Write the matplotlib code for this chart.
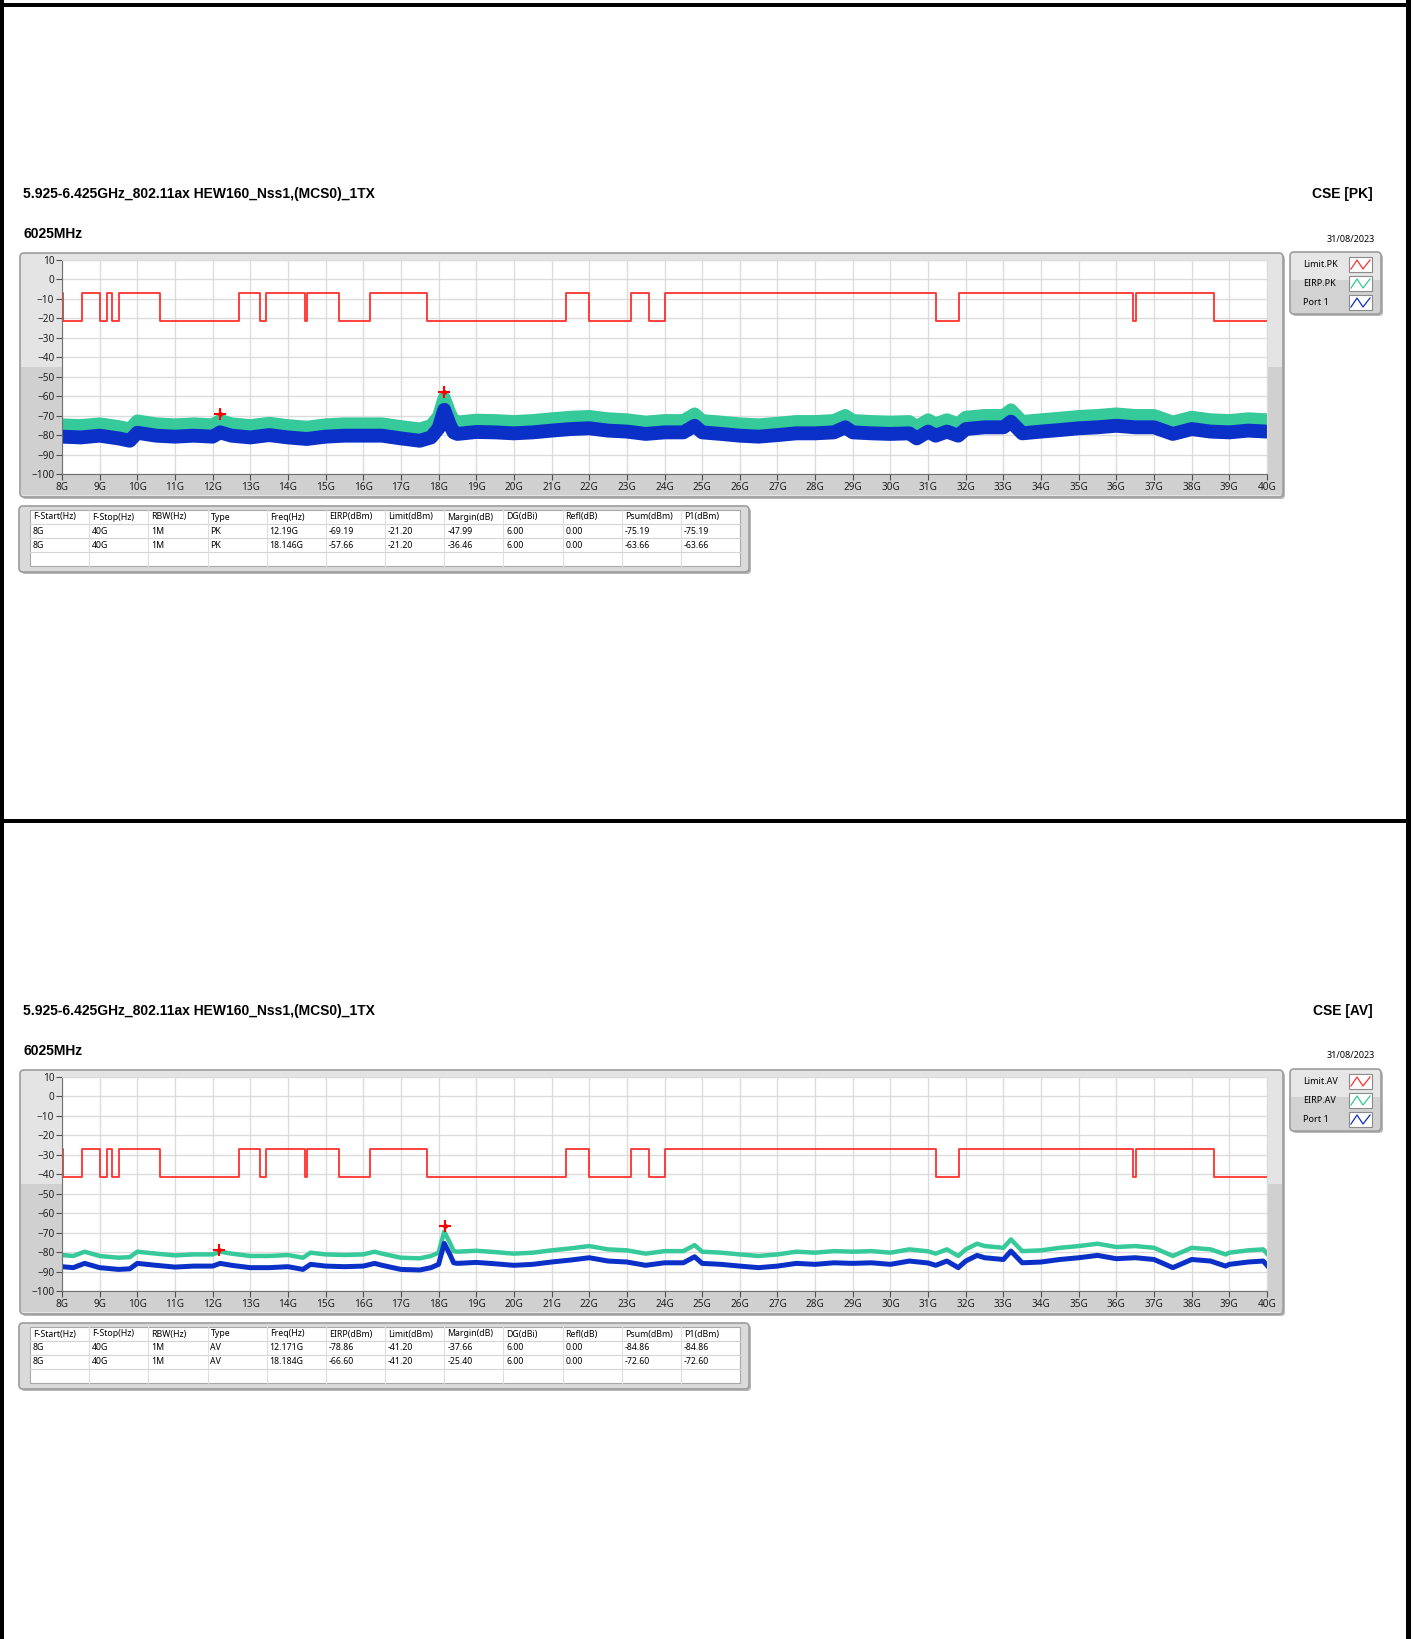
import matplotlib
matplotlib.use('Agg')
import matplotlib.pyplot as plt
from matplotlib.patches import Rectangle, FancyBboxPatch
import numpy as np

plt.rcParams['font.family'] = ['Noto Sans', 'DejaVu Sans']

W, H = 1413, 1639
PAGE = 817   # height of one report page in pixels

title = '5.925-6.425GHz_802.11ax HEW160_Nss1,(MCS0)_1TX'
channel = '6025MHz'
report_date = '31/08/2023'

# limit mask edges in GHz, segments alternate high / low starting high
limit_edges = [8.0, 8.03, 8.52, 9.0, 9.19, 9.32, 9.51, 10.61, 12.70, 13.27, 13.41,
               14.46, 14.50, 15.35, 16.19, 17.70, 21.39, 22.0, 23.12, 23.59, 24.0,
               31.2, 31.81, 36.44, 36.51, 38.58, 40.0]
pk_limit = (-7.2, -21.2)
av_limit = (-27.2, -41.2)
dg = 6.0   # antenna gain, Port 1 = EIRP - DG

# EIRP.PK trace (centre of the noise band)
pk_freq = [8.0, 8.5, 9.0, 9.5, 9.8, 10.0, 10.5, 11.0, 11.5, 12.0, 12.2, 12.5, 13.0, 13.5,
           14.0, 14.5, 15.0, 15.5, 16.0, 16.5, 17.0, 17.5, 17.8, 18.0, 18.15, 18.3, 18.4,
           18.5, 19.0, 19.5, 20.0, 20.5, 21.0, 21.5, 22.0, 22.5, 23.0, 23.5, 24.0, 24.5,
           24.8, 25.0, 25.5, 26.0, 26.5, 27.0, 27.5, 28.0, 28.5, 28.8, 29.0, 29.5, 30.0,
           30.5, 30.7, 31.0, 31.2, 31.5, 31.8, 32.0, 32.5, 33.0, 33.2, 33.5, 34.0, 34.5,
           35.0, 35.5, 36.0, 36.5, 37.0, 37.5, 38.0, 38.5, 39.0, 39.5, 40.0]
pk_eirp = [-74.8, -75.2, -74.3, -75.7, -76.9, -72.8, -74.3, -74.8, -74.3, -74.8, -72.6,
           -74.3, -75.2, -74.0, -75.2, -76.0, -74.8, -74.3, -74.3, -74.3, -75.7, -76.9,
           -75.2, -70.5, -61.0, -68.8, -72.6, -73.4, -72.4, -72.6, -73.1, -72.6, -71.7,
           -70.9, -70.5, -71.7, -72.2, -73.4, -72.6, -72.6, -69.2, -72.6, -73.4, -74.3,
           -74.8, -74.0, -73.1, -73.1, -72.6, -70.0, -72.6, -73.1, -73.4, -73.1, -75.7,
           -72.2, -74.3, -72.2, -74.3, -70.9, -70.0, -70.0, -67.1, -73.1, -72.2, -71.4,
           -70.5, -70.0, -69.2, -70.0, -70.0, -73.4, -70.9, -72.2, -72.6, -71.7, -72.2]

# EIRP.AV trace
av_freq = [8.0, 8.3, 8.6, 9.0, 9.5, 9.8, 10.0, 10.5, 11.0, 11.5, 12.0, 12.2, 12.5, 13.0,
           13.5, 14.0, 14.4, 14.6, 15.0, 15.5, 16.0, 16.3, 16.5, 17.0, 17.5, 17.8, 18.0,
           18.15, 18.3, 18.4, 18.5, 19.0, 19.5, 20.0, 20.5, 21.0, 21.5, 22.0, 22.5, 23.0,
           23.5, 24.0, 24.5, 24.8, 25.0, 25.5, 26.0, 26.5, 27.0, 27.5, 28.0, 28.5, 29.0,
           29.5, 30.0, 30.5, 31.0, 31.2, 31.5, 31.8, 32.0, 32.3, 32.5, 33.0, 33.2, 33.5,
           34.0, 34.5, 35.0, 35.5, 36.0, 36.5, 37.0, 37.5, 38.0, 38.5, 38.9, 39.0, 39.5,
           39.9, 40.0]
av_eirp = [-81.5, -82.0, -79.8, -82.0, -82.9, -82.6, -79.8, -80.8, -81.7, -81.2, -81.2,
           -79.8, -80.8, -82.0, -82.0, -81.5, -82.9, -80.3, -81.2, -81.5, -81.2, -79.8,
           -80.8, -82.9, -83.2, -82.0, -80.3, -69.5, -75.2, -79.5, -79.8, -79.3, -80.0,
           -80.8, -80.3, -79.1, -78.1, -76.9, -78.6, -79.1, -80.8, -79.5, -79.5, -76.4,
           -79.8, -80.3, -81.2, -82.0, -81.2, -79.8, -80.3, -79.5, -79.8, -79.5, -80.3,
           -78.6, -79.6, -80.8, -78.6, -82.0, -78.6, -75.7, -76.9, -77.8, -73.5, -79.5,
           -79.1, -77.8, -76.9, -75.7, -77.4, -76.9, -77.8, -82.0, -77.8, -78.6, -81.2,
           -80.3, -79.1, -78.6, -80.8]

table_cols = ['F-Start(Hz)', 'F-Stop(Hz)', 'RBW(Hz)', 'Type', 'Freq(Hz)', 'EIRP(dBm)',
              'Limit(dBm)', 'Margin(dB)', 'DG(dBi)', 'Refl(dB)', 'Psum(dBm)', 'P1(dBm)']
pk_rows = [['8G', '40G', '1M', 'PK', '12.19G', '-69.19', '-21.20', '-47.99', '6.00', '0.00', '-75.19', '-75.19'],
           ['8G', '40G', '1M', 'PK', '18.146G', '-57.66', '-21.20', '-36.46', '6.00', '0.00', '-63.66', '-63.66']]
av_rows = [['8G', '40G', '1M', 'AV', '12.171G', '-78.86', '-41.20', '-37.66', '6.00', '0.00', '-84.86', '-84.86'],
           ['8G', '40G', '1M', 'AV', '18.184G', '-66.60', '-41.20', '-25.40', '6.00', '0.00', '-72.60', '-72.60']]

RED = '#ff3030'
GREEN = '#36c999'
BLUE = '#0a30c8'


def rect(x, y, w, h):
    return [x / W, 1 - (y + h) / H, w / W, h / H]


fig = plt.figure(figsize=(W / 100, H / 100), dpi=100)
bg = fig.add_axes([0, 0, 1, 1])
bg.set_xlim(0, W)
bg.set_ylim(H, 0)
bg.axis('off')

# black page borders
bg.add_patch(Rectangle((0, 0), 4, H, fc='black', ec='none'))
bg.add_patch(Rectangle((1406, 0), 5, H, fc='black', ec='none'))
bg.add_patch(Rectangle((0, 3), 1410, 4, fc='black', ec='none'))
bg.add_patch(Rectangle((0, 819), 1410, 4, fc='black', ec='none'))


def draw_page(o, det, freq, eirp, limits, rows, big_noise):
    bold = dict(fontsize=10, fontweight='bold', va='center', family=['Liberation Sans', 'DejaVu Sans'])
    bg.text(23, 194 + o, title, ha='left', **bold)
    bg.text(23, 234 + o, channel, ha='left', **bold)
    bg.text(1373, 194 + o, 'CSE [%s]' % det, ha='right', **bold)
    bg.text(1375, 239 + o, report_date, ha='right', va='center', fontsize=6.5)

    # graph frame
    bg.add_patch(FancyBboxPatch((22, 255 + o), 1263, 244, boxstyle='round,pad=0,rounding_size=4',
                                fc='#b8b8b8', ec='none'))
    bg.add_patch(FancyBboxPatch((20, 253 + o), 1263, 244, boxstyle='round,pad=0,rounding_size=4',
                                fc='#e4e4e4', ec='none'))
    bg.add_patch(Rectangle((21, 367 + o), 1261, 128, fc='#d0d0d0', ec='none'))
    bg.add_patch(FancyBboxPatch((20, 253 + o), 1263, 244, boxstyle='round,pad=0,rounding_size=4',
                                fc='none', ec='#9c9c9c', lw=1.2))

    # legend
    bg.add_patch(FancyBboxPatch((1292, 254 + o), 91, 62, boxstyle='round,pad=0,rounding_size=4',
                                fc='#b8b8b8', ec='none'))
    bg.add_patch(FancyBboxPatch((1290, 252 + o), 91, 62, boxstyle='round,pad=0,rounding_size=4',
                                fc='#e6e6e6', ec='none'))
    bg.add_patch(Rectangle((1291, 280 + o), 89, 33, fc='#d2d2d2', ec='none'))
    bg.add_patch(FancyBboxPatch((1290, 252 + o), 91, 62, boxstyle='round,pad=0,rounding_size=4',
                                fc='none', ec='#9c9c9c', lw=1.2))
    names = ['Limit.' + det, 'EIRP.' + det, 'Port 1']
    for i, (name, c) in enumerate(zip(names, [RED, GREEN, BLUE])):
        yy = 257 + 19 * i + o
        bg.text(1303, yy + 7.5, name, ha='left', va='center', fontsize=6.5)
        bg.add_patch(Rectangle((1349, yy), 23, 15, fc='white', ec='#8a8a8a', lw=0.8))
        bg.plot([1351, 1357, 1363, 1370], [yy + 12, yy + 3, yy + 12, yy + 3], color=c, lw=0.9)

    # result table
    bg.add_patch(FancyBboxPatch((21, 508 + o), 730, 66, boxstyle='round,pad=0,rounding_size=4',
                                fc='#b8b8b8', ec='none'))
    bg.add_patch(FancyBboxPatch((19, 506 + o), 730, 66, boxstyle='round,pad=0,rounding_size=4',
                                fc='#dadada', ec='#9c9c9c', lw=1.2))
    x0, y0, cw, rh = 30, 510 + o, 710 / 12, 14
    bg.add_patch(Rectangle((x0, y0), 710, rh * 4, fc='white', ec='#a8a8a8', lw=0.8))
    for j in range(1, 4):
        bg.plot([x0, x0 + 710], [y0 + rh * j] * 2, color='#d4d4d4', lw=0.8)
    for i in range(1, 12):
        bg.plot([x0 + cw * i] * 2, [y0, y0 + rh * 4], color='#dedede', lw=0.8)
    for i, col in enumerate(table_cols):
        bg.text(x0 + cw * i + 3, y0 + rh / 2, col, ha='left', va='center', fontsize=6.3)
        for j, row in enumerate(rows):
            bg.text(x0 + cw * i + 3, y0 + rh * (j + 1.5), row[i], ha='left', va='center', fontsize=6.3)

    # the spectrum plot
    ax = fig.add_axes(rect(62, 260 + o, 1205, 214))
    ax.set_facecolor('white')
    ax.set_xlim(8, 40)
    ax.set_ylim(-100, 10)
    ax.set_xticks(range(8, 41))
    ax.set_xticklabels(['%dG' % v for v in range(8, 41)])
    ax.set_yticks(range(-100, 11, 10))
    ax.grid(True, color='#dcdcdc', lw=1)
    ax.set_axisbelow(True)
    ax.tick_params(labelsize=7.2, length=4, width=0.8, color='#505050', labelcolor='#202020', pad=1.5)
    for s in ['left', 'bottom']:
        ax.spines[s].set_color('#707070')
    for s in ['top', 'right']:
        ax.spines[s].set_color('#dcdcdc')

    levels = [limits[i % 2] for i in range(len(limit_edges) - 1)]
    ax.step(limit_edges, levels + [levels[-1]], where='post', color=RED, lw=1.3)

    f = np.array(freq)
    e = np.array(eirp)
    lw_g, lw_b = (9.5, 10.0) if big_noise else (3.2, 3.6)
    ax.plot(f, e, color=GREEN, lw=lw_g, solid_joinstyle='round')
    ax.plot(f, e - dg, color=BLUE, lw=lw_b, solid_joinstyle='round')

    for row in rows:
        mf = float(row[4][:-1])
        me = float(row[5])
        ax.plot(mf, me, marker='+', ms=9, mew=1.5, color='red')
        ax.plot(mf, me, marker='o', ms=2.5, color='red')


draw_page(0, 'PK', pk_freq, pk_eirp, pk_limit, pk_rows, True)
draw_page(PAGE, 'AV', av_freq, av_eirp, av_limit, av_rows, False)

fig.savefig('out.png', dpi=100)
